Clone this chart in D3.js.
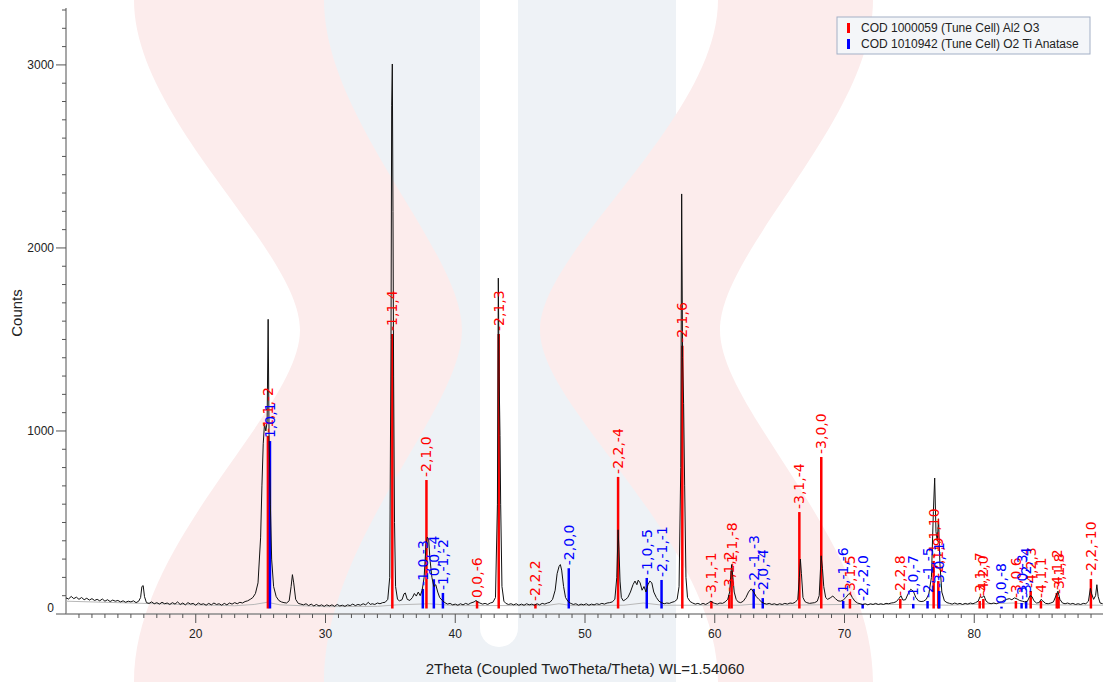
<!DOCTYPE html>
<html>
<head>
<meta charset="utf-8">
<script src="https://cdn.jsdelivr.net/npm/d3@7"></script>
<style>
  html, body { margin: 0; padding: 0; background: #fff; }
  svg { display: block; }
</style>
</head>
<body>
<svg width="1103" height="682"></svg>
<script>
(function (d3) {
  'use strict';

  // measured pattern, [2theta, counts]
  const trace = [
    [10.0,88],[10.2,82],[10.4,96],[10.6,84],[10.8,92],[11.0,80],[11.2,90],[11.4,78],[11.6,86],[11.8,76],
    [12.0,84],[12.2,74],[12.4,80],[12.6,72],[12.8,82],[13.0,70],[13.2,78],[13.4,68],[13.6,76],[13.8,70],
    [14.0,74],[14.2,66],[14.4,72],[14.6,64],[14.8,70],[15.0,66],[15.2,72],[15.4,62],[15.6,70],[15.75,90],
    [15.85,150],[15.95,155],[16.05,95],[16.2,62],[16.4,58],[16.6,66],[16.8,56],[17.0,62],[17.2,54],[17.4,64],
    [17.6,56],[17.8,60],[18.0,52],[18.2,62],[18.4,54],[18.6,66],[18.8,52],[19.0,60],[19.2,50],[19.4,62],
    [19.6,54],[19.8,58],[20.0,48],[20.2,60],[20.4,52],[20.6,56],[20.8,48],[21.0,58],[21.2,50],[21.4,60],
    [21.6,52],[21.8,56],[22.0,48],[22.2,58],[22.4,50],[22.6,60],[22.8,54],[23.0,62],[23.2,56],[23.4,64],
    [23.6,60],[23.8,68],[24.0,72],[24.2,80],[24.4,90],[24.6,112],[24.8,170],[25.0,420],[25.1,700],[25.2,930],
    [25.3,1040],[25.4,1000],[25.5,1050],[25.58,1610],[25.65,980],[25.75,600],[25.85,300],[26.0,150],[26.2,95],[26.4,74],
    [26.6,66],[26.8,62],[27.0,60],[27.2,72],[27.35,150],[27.45,215],[27.55,170],[27.7,80],[27.9,58],[28.1,54],
    [28.3,50],[28.5,56],[28.7,46],[28.9,54],[29.1,44],[29.3,52],[29.5,44],[29.7,50],[29.9,42],[30.1,50],
    [30.3,44],[30.5,50],[30.7,42],[30.9,52],[31.1,44],[31.3,48],[31.5,42],[31.7,50],[31.9,46],[32.1,54],
    [32.3,46],[32.5,52],[32.7,48],[32.9,56],[33.1,50],[33.3,64],[33.45,52],[33.6,56],[33.8,52],[34.0,60],
    [34.2,56],[34.4,62],[34.6,64],[34.8,80],[34.95,200],[35.05,1500],[35.1,2780],[35.15,3005],[35.2,2200],[35.25,1300],
    [35.32,500],[35.4,150],[35.55,80],[35.7,72],[35.9,78],[36.05,110],[36.15,115],[36.3,80],[36.5,74],[36.7,90],
    [36.85,112],[37.0,98],[37.15,120],[37.3,100],[37.45,130],[37.6,200],[37.75,380],[37.85,420],[37.95,410],[38.05,300],
    [38.2,200],[38.35,150],[38.5,160],[38.65,120],[38.8,90],[39.0,74],[39.2,62],[39.4,54],[39.6,58],[39.8,50],
    [40.0,54],[40.2,48],[40.4,56],[40.6,50],[40.8,58],[41.0,52],[41.2,60],[41.45,66],[41.6,74],[41.7,68],
    [41.9,60],[42.1,54],[42.3,58],[42.5,52],[42.7,60],[42.9,64],[43.1,90],[43.25,600],[43.32,1835],[43.38,1300],
    [43.45,975],[43.5,600],[43.6,150],[43.75,70],[43.9,58],[44.1,52],[44.3,56],[44.5,50],[44.7,56],[44.9,48],
    [45.1,54],[45.3,48],[45.5,56],[45.7,50],[45.9,54],[46.1,48],[46.3,56],[46.5,50],[46.7,58],[46.9,54],
    [47.1,60],[47.3,64],[47.5,80],[47.7,130],[47.85,220],[48.0,260],[48.1,270],[48.2,240],[48.35,150],[48.5,90],
    [48.7,68],[48.9,58],[49.1,52],[49.3,56],[49.5,48],[49.7,54],[49.9,50],[50.1,56],[50.3,48],[50.5,54],
    [50.7,50],[50.9,56],[51.1,52],[51.3,58],[51.5,54],[51.7,60],[51.9,62],[52.1,66],[52.3,80],[52.45,200],
    [52.55,460],[52.62,350],[52.7,180],[52.8,90],[52.95,72],[53.1,78],[53.3,90],[53.5,120],[53.7,160],[53.85,180],
    [54.0,160],[54.1,185],[54.25,170],[54.4,130],[54.55,150],[54.7,120],[54.85,160],[55.0,180],[55.15,170],[55.3,120],
    [55.5,90],[55.7,70],[55.9,62],[56.1,56],[56.3,60],[56.5,58],[56.7,64],[56.9,68],[57.1,80],[57.25,150],
    [57.38,800],[57.45,2295],[57.52,1400],[57.6,1150],[57.68,700],[57.78,200],[57.9,90],[58.1,68],[58.3,60],[58.5,54],
    [58.7,58],[58.9,52],[59.1,58],[59.3,52],[59.5,60],[59.7,70],[59.85,62],[60.0,58],[60.2,54],[60.4,60],
    [60.6,58],[60.8,66],[61.0,80],[61.15,120],[61.3,270],[61.4,200],[61.5,120],[61.65,80],[61.8,66],[62.0,62],
    [62.2,70],[62.4,90],[62.6,120],[62.8,138],[63.0,120],[63.2,95],[63.4,80],[63.6,66],[63.8,58],[64.0,54],
    [64.2,58],[64.4,52],[64.6,56],[64.8,50],[65.0,56],[65.2,52],[65.4,58],[65.6,54],[65.8,60],[66.0,58],
    [66.2,64],[66.4,80],[66.52,200],[66.6,300],[66.68,220],[66.8,90],[66.95,68],[67.1,62],[67.3,58],[67.5,60],
    [67.7,62],[67.9,70],[68.05,100],[68.2,318],[68.3,250],[68.4,150],[68.55,90],[68.7,80],[68.9,88],[69.1,98],
    [69.3,84],[69.5,72],[69.7,70],[69.9,76],[70.1,90],[70.3,108],[70.45,112],[70.6,90],[70.8,70],[71.0,60],
    [71.2,56],[71.4,52],[71.6,56],[71.8,50],[72.0,56],[72.2,52],[72.4,58],[72.6,52],[72.8,56],[73.0,52],
    [73.2,58],[73.4,56],[73.6,60],[73.8,62],[74.0,68],[74.2,85],[74.35,100],[74.5,76],[74.7,78],[74.9,110],
    [75.1,135],[75.3,125],[75.5,90],[75.7,72],[75.9,68],[76.1,70],[76.3,80],[76.5,110],[76.7,200],[76.85,560],
    [76.95,743],[77.05,450],[77.15,400],[77.25,520],[77.35,280],[77.5,120],[77.7,72],[77.9,62],[78.1,58],[78.3,54],
    [78.5,60],[78.7,54],[78.9,58],[79.1,52],[79.3,58],[79.5,54],[79.7,60],[79.9,56],[80.1,62],[80.3,70],
    [80.45,95],[80.6,90],[80.75,100],[80.9,72],[81.1,60],[81.3,56],[81.5,60],[81.7,56],[81.9,62],[82.1,66],
    [82.3,74],[82.5,80],[82.7,84],[82.9,78],[83.1,88],[83.3,82],[83.5,74],[83.7,70],[83.9,66],[84.1,70],
    [84.3,100],[84.45,95],[84.6,72],[84.8,60],[85.0,62],[85.15,80],[85.3,70],[85.5,58],[85.7,56],[85.9,60],
    [86.1,66],[86.3,100],[86.45,125],[86.6,80],[86.8,60],[87.0,56],[87.2,60],[87.4,54],[87.6,58],[87.8,52],
    [88.0,56],[88.2,52],[88.4,58],[88.6,56],[88.8,70],[88.95,140],[89.05,110],[89.2,80],[89.35,100],[89.45,160],
    [89.55,95],[89.7,60],[89.9,56]
  ];

  // fitted background under the pattern
  const background = [
    [10,70],[15,60],[20,50],[23,45],[24.5,52],[25.5,64],[26.5,50],[30,40],[34,42],[35.5,50],[38,56],[40,46],
    [47,46],[48,56],[49,46],[53,48],[54.5,60],[56,48],[62,48],[63,54],[65,48],[70,52],[75,52],[78,48],
    [83,60],[85,50],[90,48]
  ];

  // COD 1000059 Al2 O3
  const aluPos = [25.56, 35.15, 37.78, 41.68, 43.35, 46.18, 52.55, 57.5, 59.74, 61.12, 61.3, 66.52, 68.21,
    70.42, 74.3, 76.87, 77.23, 80.42, 80.7, 83.21, 84.35, 85.14, 86.36, 86.5, 88.99];
  const aluInt = [973, 1530, 732, 71, 1530, 55, 749, 1465, 71, 104, 235, 557, 858,
    82, 82, 290, 180, 71, 82, 71, 126, 71, 115, 93, 191];
  const aluHkl = ['-1,1,-2', '-1,1,4', '-2,1,0', '0,0,-6', '-2,1,3', '-2,2,2', '-2,2,-4', '-2,1,6', '-3,1,-1',
    '-3,1,2', '-1,1,-8', '-3,1,-4', '-3,0,0', '-3,1,5', '-2,2,8', '-1,1,10', '-2,1,9', '-3,1,-7', '-4,2,0',
    '-3,0,6', '-4,2,3', '-4,1,1', '-4,1,2', '-3,1,8', '-2,2,-10'];

  // COD 1010942 O2 Ti anatase
  const anaPos = [25.72, 37.5, 38.35, 39.05, 48.75, 54.76, 55.9, 63.0, 63.7, 69.9, 71.4, 75.3, 76.4, 77.3,
    82.1, 83.65, 84.0];
  const anaInt = [945, 137, 190, 115, 250, 197, 186, 137, 87, 71, 55, 55, 71, 126, 40, 60, 71];
  const anaHkl = ['1,0,1', '-1,0,-3', '0,0,-4', '-1,-1,-2', '-2,0,0', '-1,0,-5', '-2,-1,-1', '-2,-1,-3',
    '-2,0,-4', '-1,-1,-6', '-2,-2,0', '-1,0,-7', '-2,-1,-5', '-3,0,-1', '0,0,-8', '-3,0,-3', '-3,-2,-4'];

  const legendNames = ['COD 1000059 (Tune Cell) Al2 O3', 'COD 1010942 (Tune Cell) O2 Ti Anatase'];
  const yTicks = [0, 1000, 2000, 3000];
  const xTicks = [20, 30, 40, 50, 60, 70, 80];

  const svg = d3.select('svg');
  const width = +svg.attr('width');
  const height = +svg.attr('height');

  const x = d3.scaleLinear().domain([10, 90]).range([66, 1104]);
  const y = d3.scaleLinear().domain([0, 3300]).range([614, 10]);
  const stickBase = 30;

  // faint logo in the background
  const wm = svg.append('g');
  wm.append('rect').attr('x', 324).attr('y', 0).attr('width', 352).attr('height', height)
    .attr('fill', '#eef2f6');
  wm.append('path').attr('fill', '#ffffff')
    .attr('d', 'M480,0 L518,0 L518,628 A19,19 0 0 1 480,628 Z');
  wm.append('path').attr('fill', '#fcecec')
    .attr('d', 'M134,0 L324,0 C324,120 462,250 462,330 C462,410 324,540 324,682 L134,682 ' +
      'C134,540 300,410 300,330 C300,250 134,120 134,0 Z');
  wm.append('path').attr('fill', '#fcecec')
    .attr('d', 'M718,0 L873,0 C873,120 720,250 720,330 C720,410 873,540 873,682 L718,682 ' +
      'C718,540 540,410 540,330 C540,250 718,120 718,0 Z');

  // axes
  const axisColor = '#8a8a8a';
  svg.append('line').attr('x1', 66).attr('x2', 66).attr('y1', 8).attr('y2', 614)
    .attr('stroke', axisColor).attr('stroke-width', 1.5);
  svg.append('line').attr('x1', 66).attr('x2', width).attr('y1', 614).attr('y2', 614)
    .attr('stroke', axisColor).attr('stroke-width', 1.5);

  const yMinor = d3.range(100, 3301, 100).filter(v => v % 1000 !== 0);
  svg.append('g').selectAll('line').data(yMinor).enter().append('line')
    .attr('x1', 62).attr('x2', 66).attr('y1', d => y(d)).attr('y2', d => y(d))
    .attr('stroke', '#555');
  svg.append('g').selectAll('line').data(yTicks).enter().append('line')
    .attr('x1', 56).attr('x2', 66).attr('y1', d => y(d)).attr('y2', d => y(d))
    .attr('stroke', '#555');
  svg.append('g').selectAll('text').data(yTicks).enter().append('text')
    .attr('x', 54).attr('y', d => y(d) + (d === 0 ? -2 : 4))
    .attr('text-anchor', 'end')
    .style('font', '12px "Liberation Sans", Arial, sans-serif').attr('fill', '#222')
    .text(d => d);

  const xMinor = d3.range(11, 90).filter(v => v % 10 !== 0);
  svg.append('g').selectAll('line').data(xMinor).enter().append('line')
    .attr('x1', d => x(d)).attr('x2', d => x(d)).attr('y1', 614).attr('y2', 618)
    .attr('stroke', '#555');
  svg.append('g').selectAll('line').data(xTicks).enter().append('line')
    .attr('x1', d => x(d)).attr('x2', d => x(d)).attr('y1', 614).attr('y2', 623)
    .attr('stroke', '#555');
  svg.append('g').selectAll('text').data(xTicks).enter().append('text')
    .attr('x', d => x(d)).attr('y', 638)
    .attr('text-anchor', 'middle')
    .style('font', '12px "Liberation Sans", Arial, sans-serif').attr('fill', '#222')
    .text(d => d);

  svg.append('text').attr('transform', 'translate(22,313) rotate(-90)')
    .attr('text-anchor', 'middle')
    .style('font', '15px "Liberation Sans", Arial, sans-serif').attr('fill', '#222')
    .text('Counts');
  svg.append('text').attr('x', 585).attr('y', 674)
    .attr('text-anchor', 'middle')
    .style('font', '15px "Liberation Sans", Arial, sans-serif').attr('fill', '#222')
    .text('2Theta (Coupled TwoTheta/Theta) WL=1.54060');

  // background fit
  const line = d3.line().x(d => x(d[0])).y(d => y(d[1]));
  svg.append('path').datum(background).attr('d', line)
    .attr('fill', 'none').attr('stroke', '#b8b8b8').attr('stroke-width', 1);

  // reference sticks
  const drawSticks = (pos, inten, color) => {
    svg.append('g').selectAll('line').data(pos).enter().append('line')
      .attr('x1', d => x(d)).attr('x2', d => x(d))
      .attr('y1', y(stickBase)).attr('y2', (d, i) => y(inten[i]))
      .attr('stroke', color).attr('stroke-width', 2.5);
  };
  drawSticks(aluPos, aluInt, '#ff0000');
  drawSticks(anaPos, anaInt, '#0000ff');

  // measured pattern
  svg.append('path').datum(trace).attr('d', line)
    .attr('fill', 'none').attr('stroke', '#111').attr('stroke-width', 1);

  const drawLabels = (pos, inten, hkl, color) => {
    svg.append('g').selectAll('text').data(pos).enter().append('text')
      .attr('transform', (d, i) => `translate(${x(d) + 5},${y(inten[i]) - 3}) rotate(-90)`)
      .style('font', '14px "DejaVu Sans", Verdana, sans-serif').attr('fill', color)
      .text((d, i) => hkl[i]);
  };
  drawLabels(aluPos, aluInt, aluHkl, '#ff0000');
  drawLabels(anaPos, anaInt, anaHkl, '#0000ff');

  // legend
  const legend = svg.append('g').attr('transform', 'translate(837,17)');
  legend.append('rect').attr('width', 253).attr('height', 37)
    .attr('fill', '#f4f6f9').attr('stroke', '#a3b0c6');
  const item = legend.selectAll('.legends').data(legendNames).enter().append('g')
    .attr('transform', (d, i) => `translate(0,${i * 16})`);
  item.append('rect').attr('x', 10).attr('y', 6).attr('width', 3).attr('height', 10)
    .attr('fill', (d, i) => i === 0 ? '#ff0000' : '#0000ff');
  item.append('text').attr('x', 24).attr('y', 15)
    .style('font', '12px "Liberation Sans", Arial, sans-serif').attr('fill', '#222')
    .text(d => d);

}(d3));
</script>
</body>
</html>
